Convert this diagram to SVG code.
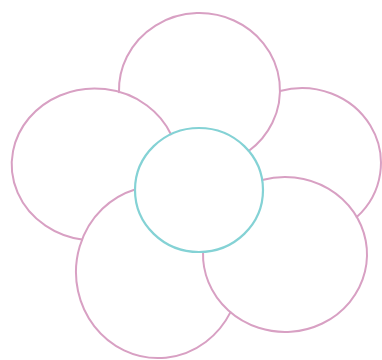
<svg xmlns="http://www.w3.org/2000/svg" width="382" height="360" viewBox="0 0 382 360">
<defs>
<style>
.petal{fill:none;stroke:#d8a0c3;stroke-width:2;stroke-linecap:round}
.center{fill:none;stroke:#84d2d5;stroke-width:2.2}
</style>
</defs>
<rect x="0" y="0" width="382" height="360" fill="#ffffff"/>
<g id="petal-right"><path class="petal" d="M280.0,91.0 A79,75 0 0 1 356.7,217.1"/></g>
<g id="petal-top"><path class="petal" d="M119.0,92.2 A80.5,77 0 1 1 248.7,151.0"/></g>
<g id="petal-left"><path class="petal" d="M82.0,239.6 A83,76 0 1 1 170.9,134.3"/></g>
<g id="petal-bottom-left"><path class="petal" d="M135.0,189.5 A82,86 0 1 0 230.4,312.4"/></g>
<g id="petal-bottom-right"><path class="petal" d="M262.2,180.0 A82,77.5 0 1 1 203.05,251.9"/></g>
<g id="center"><ellipse class="center" cx="199" cy="190" rx="64" ry="62"/></g>
<g id="connectors"></g>
</svg>
